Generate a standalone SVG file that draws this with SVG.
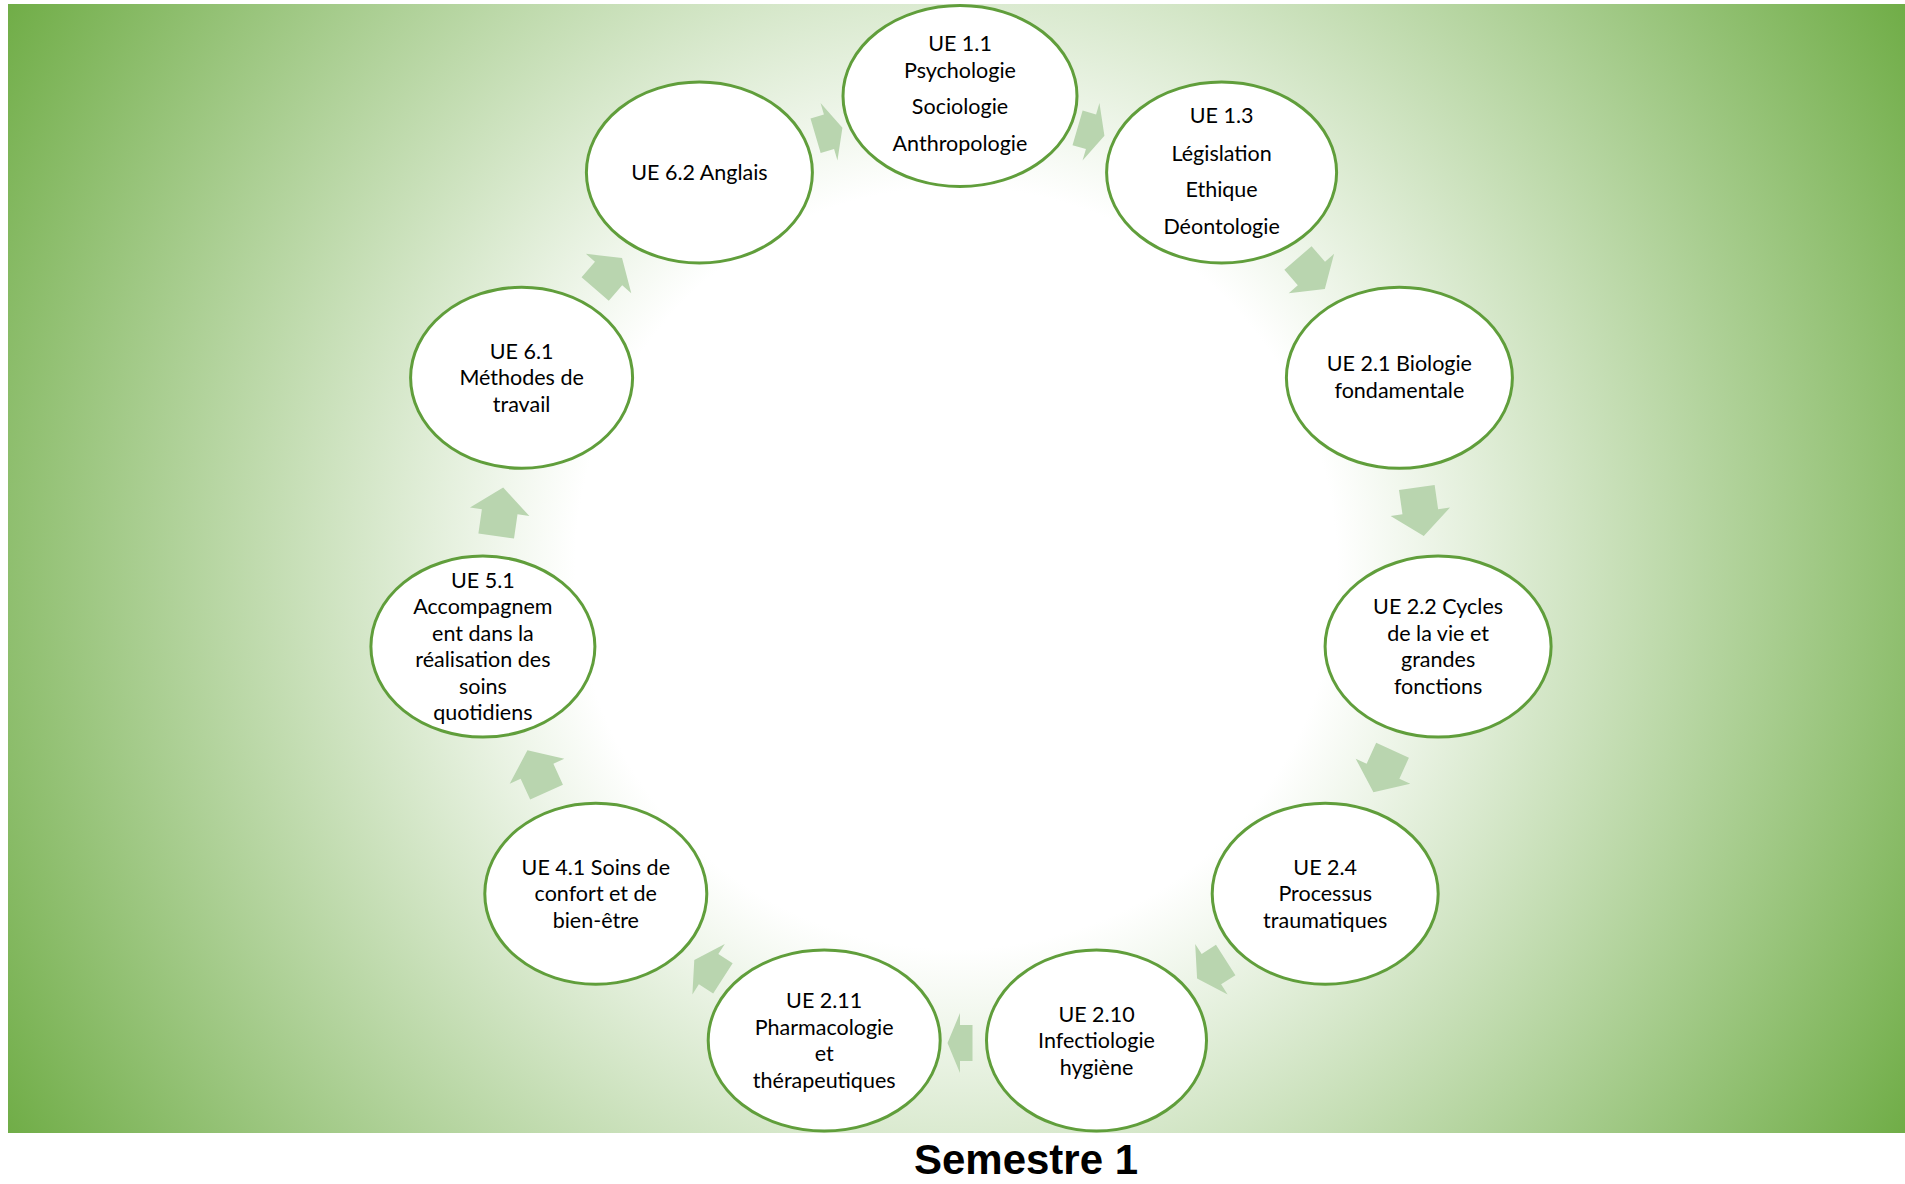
<svg xmlns="http://www.w3.org/2000/svg" xmlns:xlink="http://www.w3.org/1999/xlink" width="1905" height="1184" viewBox="0 0 1905 1184">
  <defs>
    <radialGradient id="bg" gradientUnits="userSpaceOnUse" cx="956" cy="568" r="1104">
      <stop offset="0" stop-color="#ffffff"/>
      <stop offset="0.345" stop-color="#ffffff"/>
      <stop offset="1" stop-color="#70ad47"/>
    </radialGradient>
    <path id="arw" d="M-24.5,-18 L0,-18 L0,-30 L24.5,0 L0,30 L0,18 L-24.5,18 Z"/>
  </defs>
  <style>
    .node ellipse { fill: #ffffff; stroke: #609e3b; stroke-width: 3; }
    .node text { font-family: Lato, "Open Sans", "Noto Sans", sans-serif; font-size: 21.5px; fill: #000000; text-anchor: middle; }
    .arrow { fill: #b9d5af; }
    .title { font-family: "Liberation Sans", Arial, sans-serif; font-weight: bold; font-size: 42px; fill: #000000; text-anchor: middle; }
  </style>
  <rect width="1905" height="1184" fill="#ffffff"/>
  <rect x="8" y="4" width="1897" height="1129" fill="url(#bg)"/>

  <g id="connectors">
    <use class="arrow" xlink:href="#arw" href="#arw" transform="translate(1091,131.8) rotate(16.36) scale(0.571,1)"/>
    <use class="arrow" xlink:href="#arw" href="#arw" transform="translate(1311.4,273.5) rotate(49.09) scale(0.837,1)"/>
    <use class="arrow" xlink:href="#arw" href="#arw" transform="translate(1420.3,511.8) rotate(81.82)"/>
    <use class="arrow" xlink:href="#arw" href="#arw" transform="translate(1383,771.2) rotate(114.55) scale(0.939,1)"/>
    <use class="arrow" xlink:href="#arw" href="#arw" transform="translate(1211.4,969.2) rotate(147.27) scale(0.694,1)"/>
    <use class="arrow" xlink:href="#arw" href="#arw" transform="translate(960,1043) rotate(180) scale(0.51,1)"/>
    <use class="arrow" xlink:href="#arw" href="#arw" transform="translate(708.6,969.2) rotate(212.73) scale(0.694,1)"/>
    <use class="arrow" xlink:href="#arw" href="#arw" transform="translate(537,771.2) rotate(245.45) scale(0.939,1)"/>
    <use class="arrow" xlink:href="#arw" href="#arw" transform="translate(499.7,511.8) rotate(278.18)"/>
    <use class="arrow" xlink:href="#arw" href="#arw" transform="translate(608.6,273.5) rotate(310.91) scale(0.837,1)"/>
    <use class="arrow" xlink:href="#arw" href="#arw" transform="translate(829,131.8) rotate(343.64) scale(0.571,1)"/>
  </g>

  <g id="ue-1-1" class="node">
    <ellipse cx="960" cy="96" rx="117" ry="90.5"/>
    <text x="960" y="51.2">UE 1.1</text>
    <text x="960" y="78">Psychologie</text>
    <text x="960" y="114.4">Sociologie</text>
    <text x="960" y="150.9">Anthropologie</text>
  </g>
  <g id="ue-1-3" class="node">
    <ellipse cx="1221.6" cy="172.5" rx="115" ry="90.5"/>
    <text x="1221.6" y="122.9">UE 1.3</text>
    <text x="1221.6" y="160.6">Législation</text>
    <text x="1221.6" y="197">Ethique</text>
    <text x="1221.6" y="233.5">Déontologie</text>
  </g>
  <g id="ue-2-1" class="node">
    <ellipse cx="1399.4" cy="377.8" rx="113" ry="90.5"/>
    <text x="1399.4" y="371">UE 2.1 Biologie</text>
    <text x="1399.4" y="397.5">fondamentale</text>
  </g>
  <g id="ue-2-2" class="node">
    <ellipse cx="1438.1" cy="646.6" rx="113" ry="90.5"/>
    <text x="1438.1" y="614.4">UE 2.2 Cycles</text>
    <text x="1438.1" y="640.9">de la vie et</text>
    <text x="1438.1" y="667.4">grandes</text>
    <text x="1438.1" y="693.9">fonctions</text>
  </g>
  <g id="ue-2-4" class="node">
    <ellipse cx="1325.2" cy="893.7" rx="113" ry="90.5"/>
    <text x="1325.2" y="874.7">UE 2.4</text>
    <text x="1325.2" y="901.2">Processus</text>
    <text x="1325.2" y="927.7">traumatiques</text>
  </g>
  <g id="ue-2-10" class="node">
    <ellipse cx="1096.5" cy="1040.5" rx="110" ry="90.5"/>
    <text x="1096.5" y="1021.5">UE 2.10</text>
    <text x="1096.5" y="1048">Infectiologie</text>
    <text x="1096.5" y="1074.5">hygiène</text>
  </g>
  <g id="ue-2-11" class="node">
    <ellipse cx="824.2" cy="1040.5" rx="116" ry="90.5"/>
    <text x="824.2" y="1008.3">UE 2.11</text>
    <text x="824.2" y="1034.8">Pharmacologie</text>
    <text x="824.2" y="1061.3">et</text>
    <text x="824.2" y="1087.8">thérapeutiques</text>
  </g>
  <g id="ue-4-1" class="node">
    <ellipse cx="595.8" cy="893.7" rx="111" ry="90.5"/>
    <text x="595.8" y="874.7">UE 4.1 Soins de</text>
    <text x="595.8" y="901.2">confort et de</text>
    <text x="595.8" y="927.7">bien-être</text>
  </g>
  <g id="ue-5-1" class="node">
    <ellipse cx="482.9" cy="646.6" rx="112" ry="90.5"/>
    <text x="482.9" y="587.9">UE 5.1</text>
    <text x="482.9" y="614.4">Accompagnem</text>
    <text x="482.9" y="640.9">ent dans la</text>
    <text x="482.9" y="667.4">réalisation des</text>
    <text x="482.9" y="693.9">soins</text>
    <text x="482.9" y="720.4">quotidiens</text>
  </g>
  <g id="ue-6-1" class="node">
    <ellipse cx="521.6" cy="377.8" rx="111" ry="90.5"/>
    <text x="521.6" y="358.8">UE 6.1</text>
    <text x="521.6" y="385.3">Méthodes de</text>
    <text x="521.6" y="411.8">travail</text>
  </g>
  <g id="ue-6-2" class="node">
    <ellipse cx="699.4" cy="172.5" rx="113" ry="90.5"/>
    <text x="699.4" y="180">UE 6.2 Anglais</text>
  </g>

  <text class="title" x="1026" y="1174">Semestre 1</text>
</svg>
